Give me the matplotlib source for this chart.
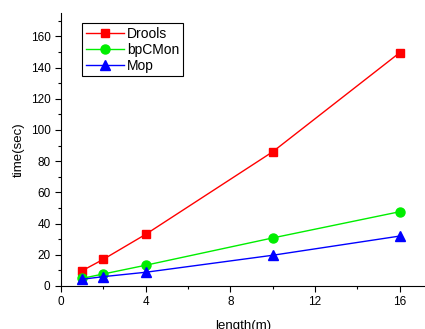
import matplotlib
matplotlib.use('Agg')
import matplotlib.pyplot as plt
from matplotlib.ticker import MultipleLocator

plt.rcParams['font.family'] = ['Liberation Sans', 'DejaVu Sans']

length = [1, 2, 4, 10, 16]
drools = [9.8, 17.1, 33.1, 86.0, 149.5]
bpcmon = [4.9, 7.7, 13.3, 30.8, 47.6]
mop = [4.3, 6.0, 8.8, 19.7, 32.0]

fig = plt.figure(figsize=(4.25, 3.29), dpi=100)
ax = fig.add_axes([0.1435, 0.1307, 0.8565, 0.8298])

ax.plot(length, drools, color='#ff0000', marker='s', markersize=6, lw=1, label='Drools')
ax.plot(length, bpcmon, color='#00ee00', marker='o', markersize=6.5, lw=1, label='bpCMon')
ax.plot(length, mop, color='#0000ff', marker='^', markersize=7, lw=1, label='Mop')

ax.set_xlim(0, 17.2)
ax.set_ylim(0, 175)
ax.xaxis.set_major_locator(MultipleLocator(4))
ax.xaxis.set_minor_locator(MultipleLocator(2))
ax.yaxis.set_major_locator(MultipleLocator(20))
ax.yaxis.set_minor_locator(MultipleLocator(10))
ax.tick_params(which='major', direction='out', length=4, labelsize=8.5, width=0.8)
ax.tick_params(which='minor', direction='out', length=2.5, width=0.8)

ax.spines['top'].set_visible(False)
ax.spines['right'].set_visible(False)

ax.set_xlabel('length(m)', fontsize=9.5, labelpad=8)
ax.set_ylabel('time(sec)', fontsize=9.5, labelpad=4)

leg = ax.legend(loc='upper left', bbox_to_anchor=(0.058, 0.963), borderaxespad=0,
                fontsize=10, fancybox=False, edgecolor='black', framealpha=1,
                handlelength=2.8, borderpad=0.25, labelspacing=0.15, handletextpad=0.2)
leg.get_frame().set_linewidth(0.8)

fig.savefig('out.png', dpi=100)
